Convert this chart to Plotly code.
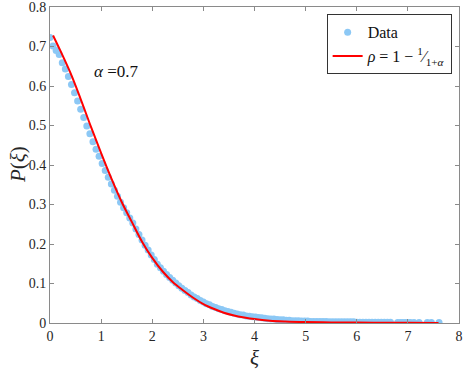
import plotly.graph_objects as go

# simulated distribution (dots)
DATA_XI = [
    0.00, 0.06, 0.12, 0.18, 0.24, 0.30, 0.36, 0.42, 0.48, 0.54,
    0.60, 0.66, 0.72, 0.78, 0.84, 0.90, 0.96, 1.02, 1.08, 1.14,
    1.20, 1.26, 1.32, 1.38, 1.44, 1.50, 1.56, 1.62, 1.68, 1.74,
    1.80, 1.86, 1.92, 1.98, 2.04, 2.10, 2.16, 2.22, 2.28, 2.34,
    2.40, 2.46, 2.52, 2.58, 2.64, 2.70, 2.76, 2.82, 2.88, 2.94,
    3.00, 3.06, 3.12, 3.18, 3.24, 3.30, 3.36, 3.42, 3.48, 3.54,
    3.60, 3.66, 3.72, 3.78, 3.84, 3.90, 3.96, 4.02, 4.08, 4.14,
    4.20, 4.26, 4.32, 4.38, 4.44, 4.50, 4.56, 4.62, 4.68, 4.74,
    4.80, 4.86, 4.92, 4.98, 5.04, 5.10, 5.16, 5.22, 5.28, 5.34,
    5.40, 5.46, 5.52, 5.58, 5.64, 5.70, 5.76, 5.82, 5.88, 5.94,
    6.00, 6.06, 6.12, 6.18, 6.24, 6.30, 6.36, 6.42, 6.48, 6.54,
    6.60, 6.66, 6.80, 6.85, 6.90, 6.95, 7.00, 7.05, 7.12, 7.22,
    7.38, 7.46, 7.61,
]
DATA_P = [
    0.723, 0.701, 0.690, 0.680, 0.659, 0.643, 0.624, 0.604, 0.583, 0.562,
    0.541, 0.520, 0.499, 0.479, 0.459, 0.440, 0.422, 0.404, 0.386, 0.369,
    0.352, 0.336, 0.321, 0.306, 0.292, 0.279, 0.266, 0.253, 0.238, 0.224,
    0.210, 0.197, 0.185, 0.172, 0.161, 0.149, 0.140, 0.131, 0.123, 0.115,
    0.108, 0.101, 0.094, 0.088, 0.082, 0.077, 0.071, 0.066, 0.062, 0.057,
    0.053, 0.049, 0.046, 0.042, 0.039, 0.036, 0.034, 0.031, 0.029, 0.027,
    0.025, 0.023, 0.021, 0.020, 0.018, 0.017, 0.016, 0.015, 0.014, 0.013,
    0.012, 0.011, 0.010, 0.010, 0.009, 0.008, 0.008, 0.007, 0.007, 0.006,
    0.006, 0.006, 0.005, 0.005, 0.005, 0.004, 0.004, 0.004, 0.004, 0.004,
    0.004, 0.003, 0.003, 0.003, 0.003, 0.003, 0.003, 0.003, 0.003, 0.003,
    0.002, 0.002, 0.002, 0.002, 0.002, 0.002, 0.002, 0.002, 0.002, 0.002,
    0.002, 0.002, 0.001, 0.001, 0.001, 0.001, 0.001, 0.001, 0.001, 0.001,
    0.001, 0.001, 0.001,
]

# theory curve
FIT_XI = [0.06, 0.2, 0.4, 0.6, 0.8, 1.0, 1.2, 1.4, 1.6, 1.8, 2.0, 2.2, 2.4, 2.6,
          2.8, 3.0, 3.2, 3.4, 3.6, 3.8, 4.0, 4.3, 4.6, 5.0, 5.5, 6.0, 6.5, 7.0, 7.6]
FIT_P = [0.728, 0.690, 0.633, 0.567, 0.497, 0.430, 0.366, 0.307, 0.256, 0.206,
         0.165, 0.131, 0.104, 0.083, 0.064, 0.048, 0.036, 0.026, 0.019, 0.014,
         0.010, 0.006, 0.004, 0.0025, 0.0015, 0.001, 0.0007, 0.0004, 0.0002]

X_TICKS = [0, 1, 2, 3, 4, 5, 6, 7, 8]
Y_TICKS = [0, 0.1, 0.2, 0.3, 0.4, 0.5, 0.6, 0.7, 0.8]
Y_TICK_TEXT = ["0", "0.1", "0.2", "0.3", "0.4", "0.5", "0.6", "0.7", "0.8"]

SERIF = "Liberation Serif, DejaVu Serif, serif"
AXIS_GREY = "#8a8a8a"

fig = go.Figure()
fig.add_trace(go.Scatter(
    x=DATA_XI, y=DATA_P, mode="markers", name="Data",
    marker=dict(size=7, color="#8cc8f5", line=dict(width=0)),
))
fig.add_trace(go.Scatter(
    x=FIT_XI, y=FIT_P, mode="lines", line_shape="spline",
    name="<i>ρ</i> = 1 − <sup>1</sup>⁄<sub>1+<i>α</i></sub>",
    line=dict(color="#ff0000", width=2),
))

fig.add_annotation(
    x=0.83, y=0.637, xanchor="left", yanchor="middle", showarrow=False,
    text="<i>α</i> =0.7", font=dict(family=SERIF, size=17, color="#111111"),
)
# y-axis title placed by hand so it sits where the reference has it
fig.add_annotation(
    xref="paper", yref="paper", x=-0.078, y=0.5, xanchor="center", yanchor="middle",
    showarrow=False, textangle=-90,
    text="<i>P</i>(<i>ξ</i>)", font=dict(family=SERIF, size=21, color="#262626"),
)

axis_common = dict(
    showline=True, linecolor=AXIS_GREY, linewidth=1, mirror="ticks",
    ticks="inside", ticklen=4, tickcolor=AXIS_GREY, showgrid=False, zeroline=False,
    tickfont=dict(family=SERIF, size=14, color="#262626"),
    automargin=False, ticklabeloverflow="allow",
)

fig.update_xaxes(
    range=[0, 8], tickvals=X_TICKS,
    title=dict(text="<i>ξ</i>", font=dict(family=SERIF, size=21, color="#262626")),
    **axis_common,
)
fig.update_yaxes(
    range=[0, 0.8], tickvals=Y_TICKS, ticktext=Y_TICK_TEXT,
    **axis_common,
)

fig.update_layout(
    width=463, height=370,
    margin=dict(l=50, r=4, t=7, b=47),
    paper_bgcolor="#ffffff", plot_bgcolor="#ffffff",
    showlegend=True,
    legend=dict(
        x=0.982, y=0.977, xanchor="right", yanchor="top",
        bgcolor="#ffffff", bordercolor="#333333", borderwidth=1,
        font=dict(family=SERIF, size=16, color="#111111"),
        itemwidth=30, tracegroupgap=0,
    ),
)

# drop the browser's default body margin so the figure sits at the page corner
fig.write_html(
    "out.html",
    config={"displayModeBar": False},
    post_script="document.body.style.margin = '0';",
)
